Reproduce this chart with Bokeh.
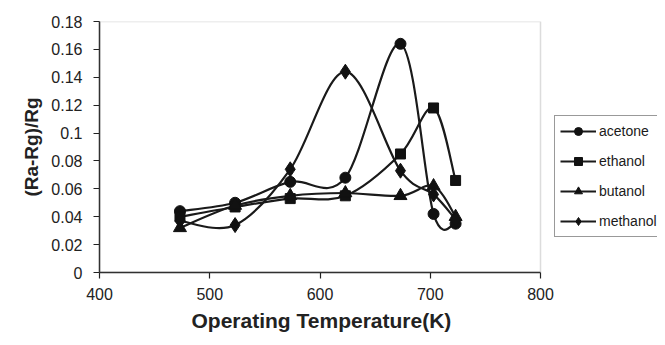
import numpy as np
from bokeh.plotting import figure
from bokeh.models import Range1d, FixedTicker, Legend, LegendItem, BoxAnnotation, Title
from bokeh.embed import file_html
from bokeh.resources import INLINE

temps = [473, 523, 573, 623, 673, 703, 723]
acetone = [0.044, 0.050, 0.065, 0.068, 0.164, 0.042, 0.035]
ethanol = [0.040, 0.047, 0.053, 0.055, 0.085, 0.118, 0.066]
butanol = [0.032, 0.048, 0.055, 0.057, 0.055, 0.062, 0.040]
methanol = [0.037, 0.034, 0.074, 0.144, 0.073, 0.056, 0.038]

series_names = ["acetone", "ethanol", "butanol", "methanol"]
series_values = [acetone, ethanol, butanol, methanol]

x_ticks = [400, 500, 600, 700, 800]
y_ticks = [0, 0.02, 0.04, 0.06, 0.08, 0.1, 0.12, 0.14, 0.16, 0.18]
y_tick_labels = ["0", "0.02", "0.04", "0.06", "0.08", "0.1", "0.12", "0.14", "0.16", "0.18"]

FONT = "Liberation Sans"

W, H = 657, 337
LEFT, TOP, BOTTOM = 99, 21, 65
PLOT_W = 441  # pixel width of the 400..800 plot area
x_lo, x_hi = x_ticks[0], x_ticks[-1]
px_per_unit = PLOT_W / (x_hi - x_lo)
x_end = x_lo + (W - LEFT) / px_per_unit

p = figure(width=W, height=H, output_backend="svg", toolbar_location=None,
           x_range=Range1d(x_lo, x_end), y_range=Range1d(y_ticks[0], y_ticks[-1]),
           min_border_left=LEFT, min_border_right=0, min_border_top=TOP, min_border_bottom=BOTTOM)
p.background_fill_color = "white"
p.border_fill_color = "white"
p.outline_line_color = None
p.grid.visible = False

# plot-area border (gray, like the reference)
p.add_layout(BoxAnnotation(left=x_lo, right=x_hi, bottom=y_ticks[0], top=y_ticks[-1],
                           fill_alpha=0, line_color="#8c8c8c", line_width=1.5))

for ax in (p.xaxis[0], p.yaxis[0]):
    ax.axis_line_color = "#222222"
    ax.axis_line_width = 1.5
    ax.major_tick_line_color = "#222222"
    ax.major_tick_line_width = 1.2
    ax.major_tick_out = 6
    ax.major_tick_in = 0
    ax.minor_tick_line_color = None
    ax.major_label_text_font = FONT
    ax.major_label_text_font_size = "16px"
    ax.major_label_text_color = "#222222"
    ax.axis_label_text_font = FONT
    ax.axis_label_text_font_style = "bold"
    ax.axis_label_text_color = "#222222"

p.xaxis.bounds = (x_lo, x_hi)
p.xaxis.ticker = FixedTicker(ticks=x_ticks)
p.yaxis.ticker = FixedTicker(ticks=y_ticks)
p.yaxis.major_label_overrides = {t: l for t, l in zip(y_ticks, y_tick_labels)}
p.yaxis.axis_label = "(Ra-Rg)/Rg"
p.yaxis.axis_label_text_font_size = "19px"
p.xaxis.major_label_standoff = 9
p.yaxis.major_label_standoff = 11
p.yaxis.axis_label_standoff = 6

xtitle = Title(text="Operating Temperature(K)", align="left", offset=92,
               text_font=FONT, text_font_style="bold", text_font_size="21px",
               text_color="#222222", standoff=8)
p.add_layout(xtitle, "below")


def bezier_controls(xs, ys):
    x = np.asarray(xs, float)
    y = np.asarray(ys, float)
    n = len(x)
    xp = np.concatenate([[x[0]], x, [x[-1]]])
    yp = np.concatenate([[y[0]], y, [y[-1]]])
    x0, y0 = x[:-1], y[:-1]
    x1, y1 = x[1:], y[1:]
    cx0 = x0 + (xp[2:n + 1] - xp[0:n - 1]) / 6.0
    cy0 = y0 + (yp[2:n + 1] - yp[0:n - 1]) / 6.0
    cx1 = x1 - (xp[3:n + 2] - xp[1:n]) / 6.0
    cy1 = y1 - (yp[3:n + 2] - yp[1:n]) / 6.0
    return dict(x0=x0, y0=y0, x1=x1, y1=y1, cx0=cx0, cy0=cy0, cx1=cx1, cy1=cy1)


markers = [
    dict(marker="circle", size=11),
    dict(marker="square", size=10),
    dict(marker="triangle", size=13),
    dict(marker="diamond", size=15),
]

line_rs = []
for name, vals in zip(series_names, series_values):
    c = bezier_controls(temps, vals)
    r = p.bezier(x0=c["x0"], y0=c["y0"], x1=c["x1"], y1=c["y1"],
                 cx0=c["cx0"], cy0=c["cy0"], cx1=c["cx1"], cy1=c["cy1"],
                 line_color="#1a1a1a", line_width=2.2)
    line_rs.append(r)

items = []
for name, vals, m, lr in zip(series_names, series_values, markers, line_rs):
    sr = p.scatter(temps, vals, marker=m["marker"], size=m["size"],
                   fill_color="#111111", line_color="#111111", line_width=1)
    items.append(LegendItem(label=name, renderers=[lr, sr]))

legend = Legend(items=items, location=(455, 35))
legend.label_text_font = FONT
legend.label_text_font_size = "14px"
legend.label_text_color = "#1a1a1a"
legend.glyph_width = 36
legend.glyph_height = 20
legend.label_standoff = 3
legend.spacing = 10
legend.padding = 5
legend.margin = 0
legend.border_line_color = "#333333"
legend.border_line_width = 1
legend.background_fill_color = "white"
legend.background_fill_alpha = 1.0
p.add_layout(legend, "center")

open("out.html", "w").write(file_html(p, INLINE))
